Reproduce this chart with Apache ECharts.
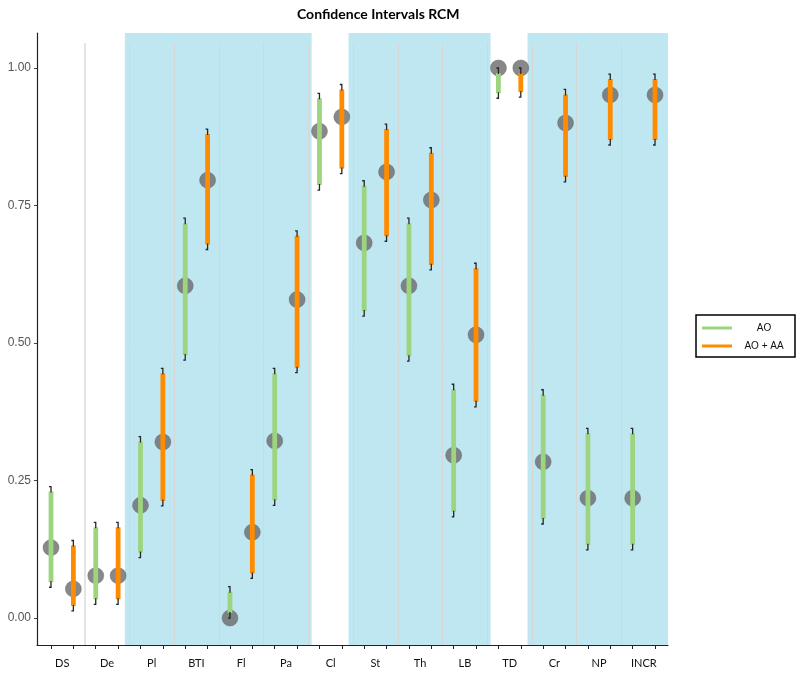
<!DOCTYPE html>
<html>
<head>
<meta charset="utf-8">
<script src="https://cdn.jsdelivr.net/npm/echarts@6/dist/echarts.min.js"></script>
<style>
  html, body { margin: 0; padding: 0; background: #fff; }
  #chart { width: 800px; height: 675px; }
</style>
</head>
<body>
<div id="chart"></div>
<script>
const categories = ['DS', 'De', 'Pl', 'BTI', 'Fl', 'Pa', 'Cl', 'St', 'Th', 'LB', 'TD', 'Cr', 'NP', 'INCR'];

// AO (green)
const aoEst  = [0.128, 0.077, 0.205, 0.604, 0.000, 0.322, 0.885, 0.682, 0.604, 0.296, 1.000, 0.284, 0.218, 0.218];
const aoLow  = [0.056, 0.025, 0.110, 0.469, 0.000, 0.205, 0.778, 0.549, 0.467, 0.184, 0.945, 0.171, 0.124, 0.124];
const aoHigh = [0.239, 0.174, 0.330, 0.727, 0.057, 0.454, 0.954, 0.795, 0.727, 0.425, 1.000, 0.415, 0.345, 0.345];

// AO + AA (orange)
const aaEst  = [0.053, 0.077, 0.320, 0.796, 0.156, 0.579, 0.911, 0.811, 0.760, 0.515, 1.000, 0.900, 0.951, 0.951];
const aaLow  = [0.013, 0.025, 0.204, 0.670, 0.072, 0.446, 0.808, 0.685, 0.633, 0.384, 0.947, 0.793, 0.860, 0.860];
const aaHigh = [0.141, 0.174, 0.454, 0.889, 0.270, 0.704, 0.970, 0.898, 0.855, 0.645, 1.000, 0.961, 0.989, 0.989];

const yTicks = [0, 0.25, 0.5, 0.75, 1.0];

// shaded category groups (first and last category index)
const shadedGroups = [[2, 5], [7, 9], [11, 13]];

const chart = echarts.init(document.getElementById('chart'));

const xMin = -0.626, xMax = 27.58;
const yMin = -0.049, yMax = 1.0636;

function renderCI(params, api) {
    const top = api.coord([api.value(0), api.value(2)]);
    const bot = api.coord([api.value(0), api.value(1)]);
    const x = top[0];
    const color = api.visual('color');
    const children = [];
    const h = bot[1] - top[1] - 10;
    if (h > 0) {
        children.push({
            type: 'rect',
            shape: { x: x - 2.4, y: top[1] + 5, width: 4.8, height: h },
            style: { fill: color }
        });
    }
    const capStyle = { stroke: '#262626', lineWidth: 1.3, fill: null };
    children.push({
        type: 'polyline',
        shape: { points: [[x - 2, top[1]], [x, top[1]], [x, top[1] + 6]] },
        style: capStyle
    });
    children.push({
        type: 'polyline',
        shape: { points: [[x, bot[1] - 6], [x, bot[1]], [x - 2, bot[1]]] },
        style: capStyle
    });
    return { type: 'group', children: children };
}

const points = [];
categories.forEach((c, i) => {
    points.push([2 * i, aoEst[i]]);
    points.push([2 * i + 1, aaEst[i]]);
});

const separators = [];
for (let i = 0; i < categories.length - 1; i++) {
    const xv = 2 * i + 1.5;
    separators.push([
        { coord: [xv, yMin], lineStyle: { color: i === 0 ? '#e4e4e4' : '#d6d6d6', width: i === 0 ? 2 : 1 } },
        { coord: [xv, 1.045] }
    ]);
}

const bands = shadedGroups.map(g => [
    { xAxis: 2 * g[0] - 0.7 },
    { xAxis: Math.min(2 * g[1] + 1 + 0.65, xMax) }
]);

const option = {
    animation: false,
    title: {
        text: 'Confidence Intervals RCM',
        left: 292,
        top: 2,
        textStyle: { fontFamily: 'Lato', fontWeight: 'bold', fontSize: 14, color: '#000' }
    },
    legend: {
        orient: 'vertical',
        left: 696,
        top: 315,
        padding: [8, 4, 6, 6],
        itemGap: 8,
        itemWidth: 30,
        itemHeight: 3,
        borderColor: '#000',
        borderWidth: 1.5,
        data: [{ name: 'AO', icon: 'rect' }, { name: 'AO + AA', icon: 'rect' }],
        formatter: name => '{c|' + name + '}',
        textStyle: {
            rich: {
                c: { width: 54, align: 'center', fontFamily: 'Liberation Sans', fontSize: 10, color: '#111', lineHeight: 12 }
            }
        }
    },
    grid: { left: 37, right: 132, top: 33, bottom: 30 },
    xAxis: {
        type: 'value',
        min: xMin,
        max: xMax,
        splitLine: { show: false },
        axisLine: { onZero: false, lineStyle: { color: '#222', width: 1.2 } },
        axisTick: {
            length: 4,
            lineStyle: { color: '#222' },
            customValues: categories.flatMap((c, i) => [2 * i, 2 * i + 1])
        },
        axisLabel: {
            margin: 13,
            fontFamily: 'Lato',
            fontSize: 11,
            color: '#111',
            customValues: categories.map((c, i) => 2 * i + 0.5),
            formatter: v => categories[Math.round((v - 0.5) / 2)] || ''
        }
    },
    yAxis: {
        type: 'value',
        min: yMin,
        max: yMax,
        splitLine: { show: false },
        axisLine: { show: true, onZero: false, lineStyle: { color: '#222', width: 1.2 } },
        axisTick: { show: true, length: 3, lineStyle: { color: '#444' }, customValues: yTicks },
        axisLabel: {
            margin: 6,
            fontFamily: 'Liberation Sans',
            fontSize: 12,
            color: '#555',
            customValues: yTicks,
            formatter: v => v.toFixed(2)
        }
    },
    series: [
        {
            name: 'bands',
            type: 'line',
            data: [],
            z: 0,
            silent: true,
            markArea: {
                silent: true,
                itemStyle: { color: '#bfe7f2' },
                data: bands
            }
        },
        {
            name: 'separators',
            type: 'line',
            data: [],
            z: 1,
            silent: true,
            markLine: {
                silent: true,
                symbol: 'none',
                label: { show: false },
                lineStyle: { type: 'solid' },
                data: separators
            }
        },
        {
            name: 'points',
            type: 'scatter',
            z: 2,
            symbol: 'circle',
            symbolSize: 16,
            itemStyle: { color: '#6a6a6a', borderColor: '#5e5e5e', borderWidth: 0.5 },
            data: points
        },
        {
            name: 'AO',
            type: 'custom',
            z: 3,
            itemStyle: { color: '#9dd47f' },
            renderItem: renderCI,
            encode: { x: 0, y: [1, 2] },
            data: categories.map((c, i) => [2 * i, aoLow[i], aoHigh[i]])
        },
        {
            name: 'AO + AA',
            type: 'custom',
            z: 3,
            itemStyle: { color: '#ff8c00' },
            renderItem: renderCI,
            encode: { x: 0, y: [1, 2] },
            data: categories.map((c, i) => [2 * i + 1, aaLow[i], aaHigh[i]])
        }
    ]
};

chart.setOption(option);
window.addEventListener('resize', () => chart.resize());
</script>
</body>
</html>
